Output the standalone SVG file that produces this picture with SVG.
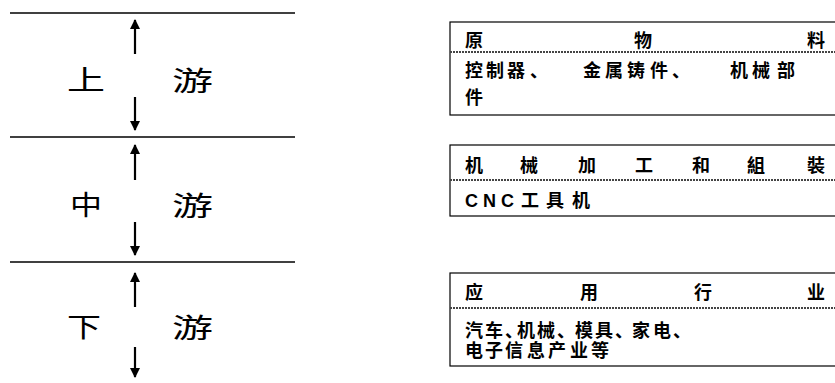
<svg xmlns="http://www.w3.org/2000/svg" width="835" height="383" viewBox="0 0 835 383">
<defs>
<marker id="ah" markerWidth="11" markerHeight="11" refX="9" refY="5" orient="auto" markerUnits="userSpaceOnUse">
<path d="M0,0 L10,5 L0,10 Z" fill="#000"/>
</marker>
<style>
.lbl{font-family:"Noto Sans CJK SC","Noto Sans CJK TC",sans-serif;font-size:27px;fill:#000}
.t{font-family:"Noto Sans CJK SC","Noto Sans CJK TC",sans-serif;font-size:18px;fill:#000;font-weight:bold}
.h{text-anchor:middle}
.box{fill:#fff;stroke:#000;stroke-width:1.2}
.div{stroke:#444;stroke-width:2;stroke-dasharray:2 1}
.sep{stroke:#000;stroke-width:1.5}
.arr{stroke:#000;stroke-width:2.2;marker-end:url(#ah)}
</style>
</defs>
<rect width="835" height="383" fill="#fff"/>
<g id="connectors">
<line class="sep" x1="10" y1="13" x2="295" y2="13"/>
<line class="sep" x1="10" y1="137" x2="295" y2="137"/>
<line class="sep" x1="10" y1="262" x2="295" y2="262"/>
<line class="arr" x1="135" y1="54" x2="135" y2="20"/>
<line class="arr" x1="135" y1="97" x2="135" y2="130"/>
<line class="arr" x1="135" y1="180" x2="135" y2="145"/>
<line class="arr" x1="135" y1="222" x2="135" y2="255"/>
<line class="arr" x1="135" y1="307" x2="135" y2="273"/>
<line class="arr" x1="135" y1="347" x2="135" y2="377"/>
</g>
<g id="upstream">
<text class="lbl" x="67" y="90" textLength="38" lengthAdjust="spacingAndGlyphs">上</text>
<text class="lbl" x="172" y="91" textLength="41" lengthAdjust="spacingAndGlyphs">游</text>
</g>
<g id="midstream">
<text class="lbl" x="70" y="215" textLength="32" lengthAdjust="spacingAndGlyphs">中</text>
<text class="lbl" x="172" y="216" textLength="41" lengthAdjust="spacingAndGlyphs">游</text>
</g>
<g id="downstream">
<text class="lbl" x="67" y="337" textLength="34" lengthAdjust="spacingAndGlyphs">下</text>
<text class="lbl" x="172" y="338" textLength="41" lengthAdjust="spacingAndGlyphs">游</text>
</g>
<g id="box-raw">
<rect class="box" x="450" y="22" width="400" height="93"/>
<line class="div" x1="450" y1="52" x2="835" y2="52"/>
<text class="t h" x="474" y="47">原</text>
<text class="t h" x="643" y="47">物</text>
<text class="t h" x="816" y="47">料</text>
<text class="t" x="465 486 507 530 583 605 627 650 672 730 752 777" y="77">控制器、金属铸件、机械部</text>
<text class="t" x="465" y="104">件</text>
</g>
<g id="box-machining">
<rect class="box" x="450" y="145" width="400" height="71"/>
<line class="div" x1="450" y1="180" x2="835" y2="180"/>
<text class="t h" x="474" y="172">机</text>
<text class="t h" x="529" y="172">械</text>
<text class="t h" x="587" y="172">加</text>
<text class="t h" x="644" y="172">工</text>
<text class="t h" x="701" y="172">和</text>
<text class="t h" x="756" y="172">組</text>
<text class="t h" x="816" y="172">裝</text>
<text class="t" x="465 483 501 521 546 572" y="207"><tspan font-family="Liberation Sans, sans-serif" font-size="18">CNC</tspan>工具机</text>
</g>
<g id="box-application">
<rect class="box" x="450" y="273" width="400" height="93"/>
<line class="div" x1="450" y1="308" x2="835" y2="308"/>
<text class="t h" x="474" y="299">应</text>
<text class="t h" x="589" y="299">用</text>
<text class="t h" x="703" y="299">行</text>
<text class="t h" x="816" y="299">业</text>
<text class="t" x="465 485 505 517 537 557 575 595 615 632 653 673" y="337">汽车、机械、模具、家电、</text>
<text class="t" x="465 485 505 527 548 570 591" y="357">电子信息产业等</text>
</g>
</svg>
